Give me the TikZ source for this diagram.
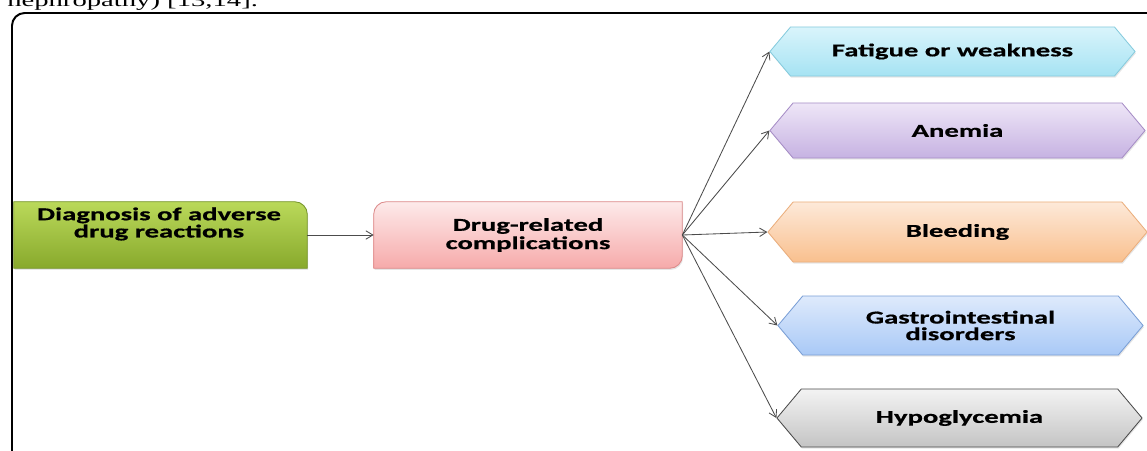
\documentclass[tikz,border=0pt]{standalone}
\usepackage{fontspec}
\newfontfamily\boxfont{Carlito}[FakeStretch=1.58, BoldFeatures={FakeBold=0.7}]
\newfontfamily\parafont{Liberation Serif}[FakeStretch=1.58]
\usepackage{xcolor}
\usetikzlibrary{arrows.meta, shapes.symbols, shadows, backgrounds}
\definecolor{fatTop}{HTML}{D9F4FB}
\definecolor{fatBot}{HTML}{A6E3F3}
\definecolor{fatLine}{HTML}{86CBDD}
\definecolor{anTop}{HTML}{EEE6F7}
\definecolor{anBot}{HTML}{C6B2E2}
\definecolor{anLine}{HTML}{A68DC6}
\definecolor{blTop}{HTML}{FDE9D9}
\definecolor{blBot}{HTML}{F9C08E}
\definecolor{blLine}{HTML}{EBAE7C}
\definecolor{gaTop}{HTML}{DEEAFC}
\definecolor{gaBot}{HTML}{A9C9F6}
\definecolor{gaLine}{HTML}{7A9FD6}
\definecolor{hyTop}{HTML}{F3F3F3}
\definecolor{hyBot}{HTML}{C4C4C4}
\definecolor{hyLine}{HTML}{4A4A4A}
\definecolor{diagTop}{HTML}{BAD95A}
\definecolor{diagBot}{HTML}{88A92C}
\definecolor{diagLine}{HTML}{76952B}
\definecolor{drugTop}{HTML}{FDEAEA}
\definecolor{drugBot}{HTML}{F6AAAA}
\definecolor{drugLine}{HTML}{DC8A8A}
\tikzset{
  >={Straight Barb[length=5pt,width=6pt]},
  % Cornice
  frame/.style={line width=1.4pt, rounded corners=9pt},
  % Testo dei riquadri
  lbl/.style={font=\boxfont\bfseries\fontsize{12.9pt}{#1}\selectfont, align=center, text=black},
  lbl/.default=12pt,
  % Riquadri
  panel/.style={inner sep=0, minimum height=1.65cm},
  panel fill/.style={top color=#1Top, bottom color=#1Bot, draw=#1Line, line width=0.6pt,
    drop shadow={opacity=0.2, shadow xshift=0.6pt, shadow yshift=-1.2pt}},
  hex/.style={signal, signal to=west and east, signal pointer angle=100, inner sep=2pt,
    panel fill=#1, lbl},
  % Connessioni
  connect arrow/.style={->, draw=black!70, line width=0.6pt}
}

\begin{document}
\begin{tikzpicture}[x=0.025cm, y=-0.025cm]
  \useasboundingbox (0,0) rectangle (1147,450);
  \clip (0,0) rectangle (1147,450);
  \node[anchor=base west, inner sep=0, font=\parafont\fontsize{12.9pt}{14pt}\selectfont] (cite) at (7,6) {nephropathy) [13,14].};
  \draw[frame] (12,470) -- (12,13) -- (1170,13);
  \node[panel, minimum width=7.325cm] (diag) at (160.5,235) {};
  \node[lbl=9.8pt] (diaglbl) at (159,224) {Diagnosis of adverse\\drug reactions};
  \node[panel, minimum width=7.7cm, lbl=13pt] (drug) at (528,235) {Drug-related\\complications};
  \node[hex=fat, minimum width=9.125cm, minimum height=1.225cm] (fatigue) at (952.5,51.5) {Fatigue or weakness};
  \node[hex=an, minimum width=9.375cm, minimum height=1.375cm] (anemia) at (957.5,130.5) {Anemia};
  \node[hex=bl, minimum width=9.475cm, minimum height=1.5cm] (bleeding) at (957.5,232) {Bleeding};
  \node[hex=ga, minimum width=9.125cm, minimum height=1.475cm, lbl=11.8pt] (gastro) at (960.5,325.5) {Gastrointestinal\\disorders};
  \node[hex=hy, minimum width=9.125cm, minimum height=1.45cm] (hypo) at (959.5,418) {Hypoglycemia};
  \begin{scope}[on background layer]
    \shade[panel fill=diag] (diag.south west) -- (diag.north west) -- ([xshift=-9pt]diag.north east)
      arc[start angle=90, end angle=0, radius=9pt] -- (diag.south east) -- cycle;
    \shade[panel fill=drug] ([yshift=-9pt]drug.north west) arc[start angle=180, end angle=90, radius=9pt]
      -- (drug.north east) -- ([yshift=9pt]drug.south east) arc[start angle=0, end angle=-90, radius=9pt]
      -- (drug.south west) -- cycle;
  \end{scope}
  \draw[connect arrow] (diag.east) -- (drug.west);
  \foreach \t in {fatigue, anemia, bleeding, gastro, hypo}
    \draw[connect arrow] (drug.east) -- (\t.west);
\end{tikzpicture}
\end{document}
